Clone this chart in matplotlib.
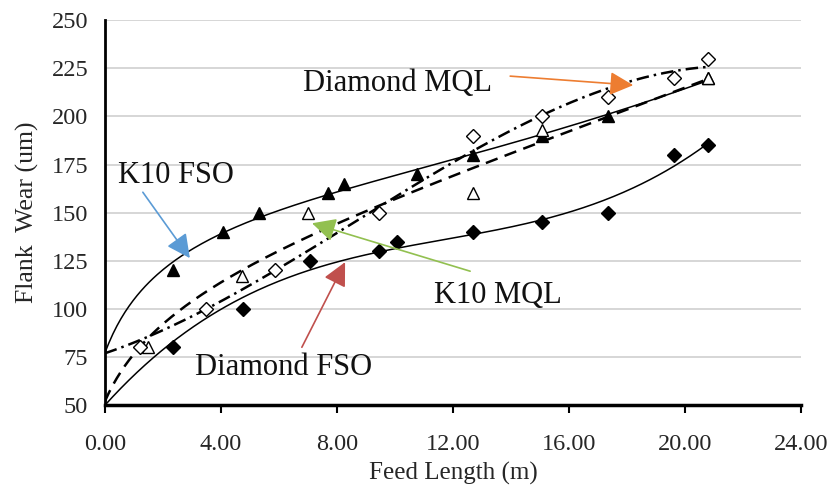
import numpy as np
import matplotlib
matplotlib.use("Agg")
import matplotlib.pyplot as plt

plt.rcParams['font.family'] = ['Liberation Serif', 'DejaVu Serif']

# measured points (feed length m, flank wear um)
k10_fso_x = [2.35, 4.07, 5.30, 7.70, 8.25, 10.76, 12.70, 15.07, 17.35, 20.80]
k10_fso_y = [120, 140, 150, 160, 165, 170, 180, 190, 200, 220]
dia_fso_x = [2.35, 4.77, 7.07, 9.45, 10.07, 12.70, 15.07, 17.35, 19.60, 20.80]
dia_fso_y = [80, 100, 125, 130, 135, 140, 145, 150, 180, 185]
k10_mql_x = [1.50, 4.72, 7.00, 12.70, 15.07, 20.80]
k10_mql_y = [80, 117, 150, 160, 193, 220]
dia_mql_x = [1.20, 3.50, 5.86, 9.45, 12.70, 15.07, 17.35, 19.60, 20.80]
dia_mql_y = [80, 100, 120, 150, 190, 200, 210, 220, 230]

# trendline values at x = 0
trend_start = {"k10_fso": 77, "dia_fso": 50, "k10_mql": 52, "dia_mql": 77}

x_ticks = [0, 4, 8, 12, 16, 20, 24]
y_ticks = [50, 75, 100, 125, 150, 175, 200, 225, 250]


def trend(xs, ys, y0, kind="cubic"):
    # least-squares trendline, anchored on the start value
    px = np.r_[0.0, xs]
    py = np.r_[y0, ys]
    w = np.r_[8.0, np.ones(len(xs))]

    def basis(x):
        if kind == "log":
            return np.column_stack([np.ones_like(x), np.log1p(x), x, x ** 2])
        return np.column_stack([np.ones_like(x), x, x ** 2, x ** 3])

    A = basis(px) * w[:, None]
    c, *_ = np.linalg.lstsq(A, py * w, rcond=None)
    xx = np.linspace(0, max(xs), 300)
    return xx, basis(xx) @ c


fig = plt.figure(figsize=(8.32, 4.90), dpi=100)
ax = fig.add_axes([0.126, 0.173, 0.837, 0.786])

# trendlines
xx, yy = trend(k10_fso_x, k10_fso_y, trend_start["k10_fso"], "log")
ax.plot(xx, yy, color="black", lw=1.1)
xx, yy = trend(dia_fso_x, dia_fso_y, trend_start["dia_fso"], "cubic")
ax.plot(xx, yy, color="black", lw=1.1)
xx, yy = trend(k10_mql_x, k10_mql_y, trend_start["k10_mql"], "log")
ax.plot(xx, yy, color="black", lw=1.8, dashes=(5, 3))
xx, yy = trend(dia_mql_x, dia_mql_y, trend_start["dia_mql"], "cubic")
ax.plot(xx, yy, color="black", lw=1.8, dashes=(5, 2, 1, 2))

# markers
ax.plot(k10_fso_x, k10_fso_y, "^", ms=9, color="black", ls="none")
ax.plot(dia_fso_x, dia_fso_y, "D", ms=7.5, color="black", ls="none")
ax.plot(k10_mql_x, k10_mql_y, "^", ms=9, mfc="white", mec="black", mew=1, ls="none")
ax.plot(dia_mql_x, dia_mql_y, "D", ms=7.5, mfc="white", mec="black", mew=1, ls="none")

ax.set_xlim(0, 24)
ax.set_ylim(50, 250)
ax.set_xticks(x_ticks)
ax.set_xticklabels([f"{v:.2f}" for v in x_ticks])
ax.set_yticks(y_ticks)
ax.tick_params(axis="x", direction="out", length=6, width=1.5, labelsize=17.5,
               pad=15, labelcolor="#262626")
ax.tick_params(axis="y", length=0, labelsize=17.5, pad=12, labelcolor="#262626")
ax.grid(axis="y", color="#d0d0d0", lw=1.2)
ax.set_axisbelow(True)
for s in ["top", "right"]:
    ax.spines[s].set_visible(False)
ax.spines["left"].set_linewidth(2)
ax.spines["bottom"].set_linewidth(2.5)

ax.set_xlabel("Feed Length (m)", fontsize=18, color="#262626")
ax.xaxis.set_label_coords(0.5, -0.148)
ax.set_ylabel("Flank  Wear (um)", fontsize=18.5, color="#262626")
ax.yaxis.set_label_coords(-0.095, 0.5)

# annotations: (label, text x, text baseline y, arrow start, arrow tip, colour)
notes = [
    ("K10 FSO", 2.45, 165.3, (1.31, 160.6), (2.93, 126.4), "#5B9BD5"),
    ("Diamond MQL", 10.1, 213.1, (13.97, 220.9), (18.21, 216.2), "#ED7D31"),
    ("K10 MQL", 13.55, 103.0, (12.59, 119.6), (7.14, 144.5), "#92C050"),
    ("Diamond FSO", 6.17, 65.6, (6.79, 80.1), (8.28, 124.3), "#C0504D"),
]
for text, tx, ty, start, tip, col in notes:
    ax.text(tx, ty, text, fontsize=22, ha="center", va="baseline", color="#111111")
    ax.annotate("", xy=tip, xytext=start,
                arrowprops=dict(arrowstyle="-|>,head_length=0.9,head_width=0.45",
                                color=col, lw=1.2, mutation_scale=16,
                                shrinkA=0, shrinkB=0))

fig.savefig("out.png", dpi=100)
